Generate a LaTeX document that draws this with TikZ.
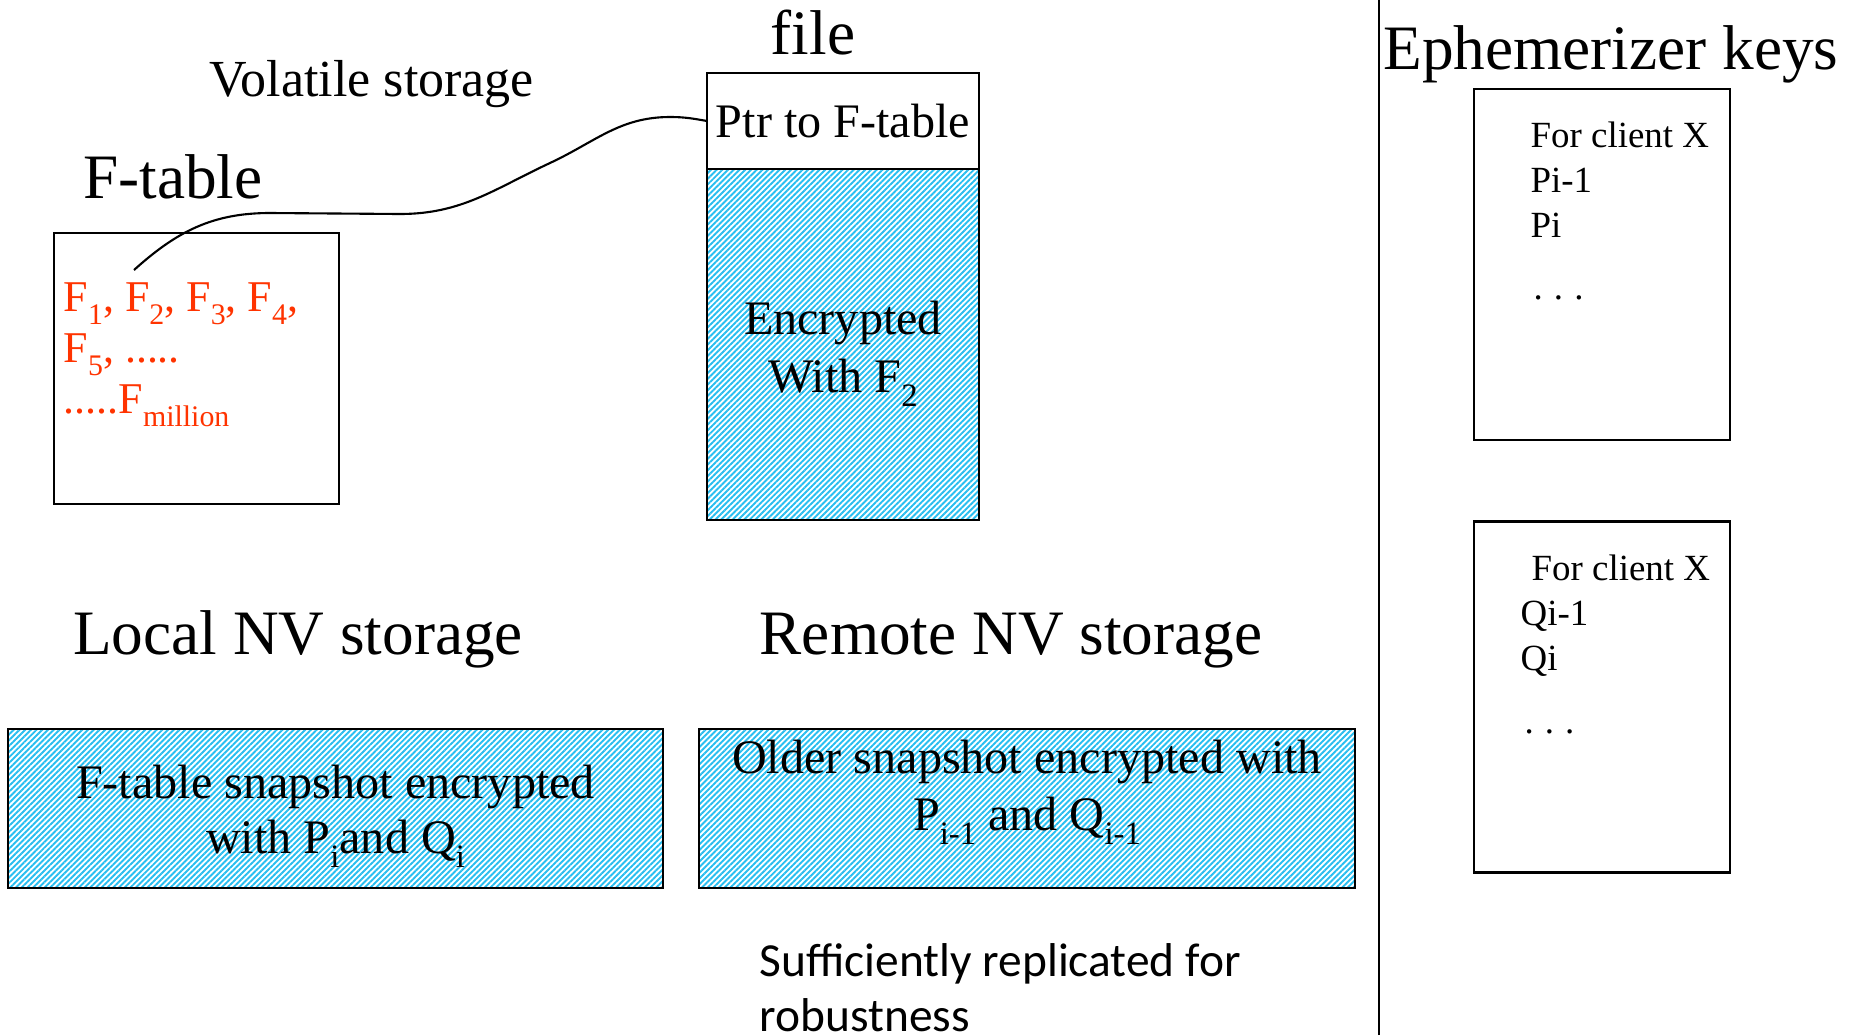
\documentclass[tikz,border=0pt]{standalone}
\usepackage{fontspec}
\setmainfont{Liberation Serif}
\newfontfamily\notefont{Carlito}
\usepackage{graphicx}
\usetikzlibrary{positioning,patterns.meta}
\definecolor{hatchblue}{RGB}{40,190,240}
\definecolor{listred}{RGB}{255,51,0}
\newcommand{\lowsub}[1]{\raisebox{-0.3em}{\scalebox{0.68}{#1}}}
\tikzset{
    heading/.style={font=\fontsize{18}{22}\selectfont, inner sep=0pt, anchor=base},
    plain box/.style={draw, line width=0.8pt, inner sep=0pt, outer sep=0pt},
    hatch box/.style={plain box,
        pattern={Lines[angle=45,distance=1.15pt,line width=0.55pt]},
        pattern color=hatchblue},
    snap text/.style={inner sep=0pt, align=center, font=\fontsize{13.7}{16.2}\selectfont},
    key box/.style={draw, line width=0.6pt, minimum width=2.56cm, minimum height=3.51cm},
    key list/.style={anchor=north west, inner sep=0pt, align=left,
        font=\fontsize{10.5}{12.8}\selectfont},
}

\begin{document}
\begin{tikzpicture}
    \useasboundingbox (0,0) rectangle (18.57,10.35);

    \node[heading, font=\fontsize{14.8}{18}\selectfont] (volatile) at (3.72,9.39) {Volatile storage};
    \node[heading] (ftitle) at (1.73,8.37) {F-table};
    \node[heading] (filetitle) at (8.13,9.81) {file};
    \node[heading] (ephtitle) at (16.11,9.66) {Ephemerizer keys};
    \node[heading] (localtitle) at (2.98,3.81) {Local NV storage};
    \node[heading] (remotetitle) at (10.11,3.81) {Remote NV storage};

    \node[plain box, minimum width=2.85cm, minimum height=2.71cm] (ftable) at (1.965,6.665) {};
    \node[anchor=north west, inner sep=0pt, align=left, text=listred,
        font=\fontsize{12.5}{14.5}\selectfont] (flist) at (0.63,7.53)
        {F\lowsub{1}, F\lowsub{2}, F\lowsub{3}, F\lowsub{4},\\F\lowsub{5}, .....\\.....F\lowsub{million}};

    \node[plain box, minimum width=2.72cm, minimum height=0.96cm,
        font=\fontsize{13.7}{16}\selectfont] (ptr) at (8.43,9.14) {Ptr to F-table};
    \node[hatch box, minimum width=2.72cm, minimum height=3.51cm, below=0pt of ptr] (enc) {};
    \node[snap text, font=\fontsize{13.7}{16.5}\selectfont] (enctext)
        at ([yshift=-0.095cm]enc.center) {Encrypted\\With F\lowsub{2}};

    \coordinate (f2tip) at (1.34,7.65);
    \draw[line width=0.6pt] (f2tip) to[out=42,in=180] (2.7,8.22) -- (4.0,8.21)
        to[out=0,in=205] (5.5,8.72) to[out=25,in=180] (6.7,9.18) to[out=0,in=170] (ptr.west);

    \node[hatch box, minimum width=6.55cm, minimum height=1.59cm] (localsnap) at (3.355,2.265) {};
    \node[snap text, font=\fontsize{13.7}{15.4}\selectfont] (localtext)
        at ([yshift=-0.08cm]localsnap.center)
        {F-table snapshot encrypted\\with P\lowsub{i}and Q\lowsub{i}};
    \node[hatch box, minimum width=6.56cm, minimum height=1.59cm] (remotesnap) at (10.27,2.265) {};
    \node[snap text] (oldtext) at ([yshift=0.16cm]remotesnap.center)
        {Older snapshot encrypted with\\P\lowsub{i-1} and Q\lowsub{i-1}};

    \node[anchor=north west, inner sep=0pt, align=left,
        font=\notefont\fontsize{13.5}{15.6}\selectfont] (note) at (7.59,0.92)
        {Sufficiently replicated for\\robustness};

    \draw[line width=0.6pt] (13.79,0) -- (13.79,10.35);

    \node[key box] (keyp) at (16.02,7.705) {};
    \node[key box] (keyq) at (16.02,3.38) {};
    \node[key list] (plist) at ([xshift=0.57cm,yshift=-0.33cm]keyp.north west)
        {For client X\\Pi-1\\Pi\\[5pt]\hspace*{0.03cm}.\hspace{0.3em}.\hspace{0.3em}.};
    \node[key list] (qlist) at ([xshift=0.47cm,yshift=-0.34cm]keyq.north west)
        {\hspace*{0.11cm}For client X\\Qi-1\\Qi\\[5pt]\hspace*{0.04cm}.\hspace{0.3em}.\hspace{0.3em}.};
\end{tikzpicture}
\end{document}
